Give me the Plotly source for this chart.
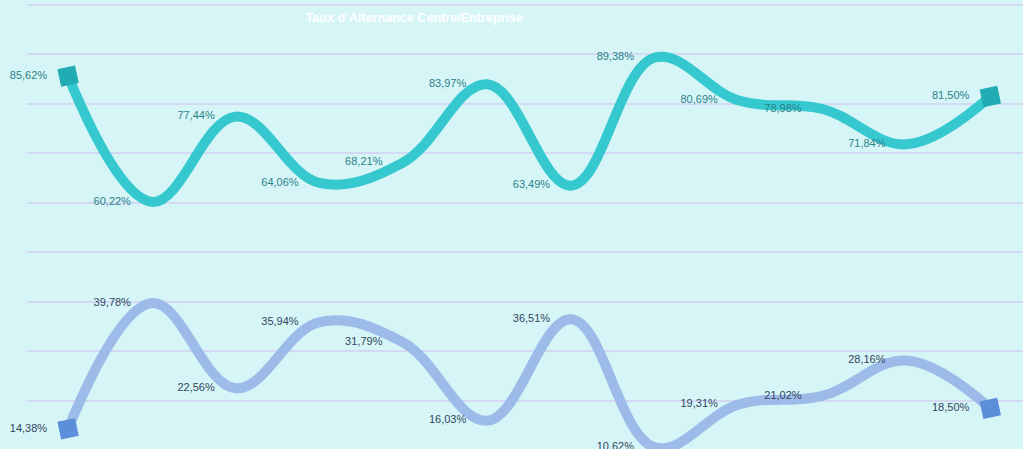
"""
Taux d'alternance centre / entreprise - two smoothed series.
"""
import plotly.graph_objects as go

months = list(range(12))
centre = [85.62, 60.22, 77.44, 64.06, 68.21, 83.97, 63.49, 89.38, 80.69, 78.98, 71.84, 81.50]
entreprise = [14.38, 39.78, 22.56, 35.94, 31.79, 16.03, 36.51, 10.62, 19.31, 21.02, 28.16, 18.50]


def pct(values):
    return [f"{v:.2f}".replace(".", ",") + "%" for v in values]


def end_sizes(values, size=18):
    # only the first and last points get a marker
    return [size if i in (0, len(values) - 1) else 0 for i in range(len(values))]


fig = go.Figure()

series = [
    (entreprise, "Entreprise", "#9dbbe8", "#5b8fd9", "#34465e"),
    (centre, "Centre", "#35c9cf", "#1fadb3", "#2b8288"),
]

for values, name, line_color, marker_color, text_color in series:
    fig.add_trace(
        go.Scatter(
            x=months,
            y=values,
            name=name,
            mode="lines",
            line=dict(color=line_color, width=10, shape="spline", smoothing=1.1),
            cliponaxis=False,
            hoverinfo="skip",
        )
    )
    # square caps on the first and last point
    fig.add_trace(
        go.Scatter(
            x=months,
            y=values,
            mode="markers",
            marker=dict(
                symbol="square",
                size=end_sizes(values),
                color=marker_color,
                opacity=1,
                angle=-12,
                line=dict(width=0),
            ),
            cliponaxis=False,
            hoverinfo="skip",
        )
    )
    # labels sit ~20px left of each point
    fig.add_trace(
        go.Scatter(
            x=months,
            y=values,
            mode="markers+text",
            marker=dict(size=32, color="rgba(0,0,0,0)"),
            text=pct(values),
            textposition="middle left",
            textfont=dict(family="Liberation Sans, Arial", size=11, color=text_color),
            cliponaxis=False,
            name=name,
        )
    )

fig.update_xaxes(
    range=[-0.49, 11.39],
    showgrid=False,
    zeroline=False,
    showticklabels=False,
    fixedrange=True,
)
fig.update_yaxes(
    range=[10.3, 101.0],
    dtick=10,
    tick0=0,
    showgrid=True,
    gridcolor="#d3d9f3",
    gridwidth=2,
    zeroline=False,
    showticklabels=False,
)

fig.update_layout(
    width=1023,
    height=449,
    margin=dict(l=27, r=0, t=0, b=0),
    paper_bgcolor="#d6f5f7",
    plot_bgcolor="#d6f5f7",
    showlegend=False,
    title=dict(
        text="<b>Taux d’Alternance Centre/Entreprise</b>",
        x=0.405,
        xanchor="center",
        y=0.96,
        yanchor="middle",
        font=dict(family="Liberation Sans, Arial", size=12.6, color="#ffffff"),
    ),
)

fig.write_html(
    "out.html",
    config={"displayModeBar": False},
    post_script="document.body.style.margin='0';document.body.style.background='#d6f5f7';",
)
